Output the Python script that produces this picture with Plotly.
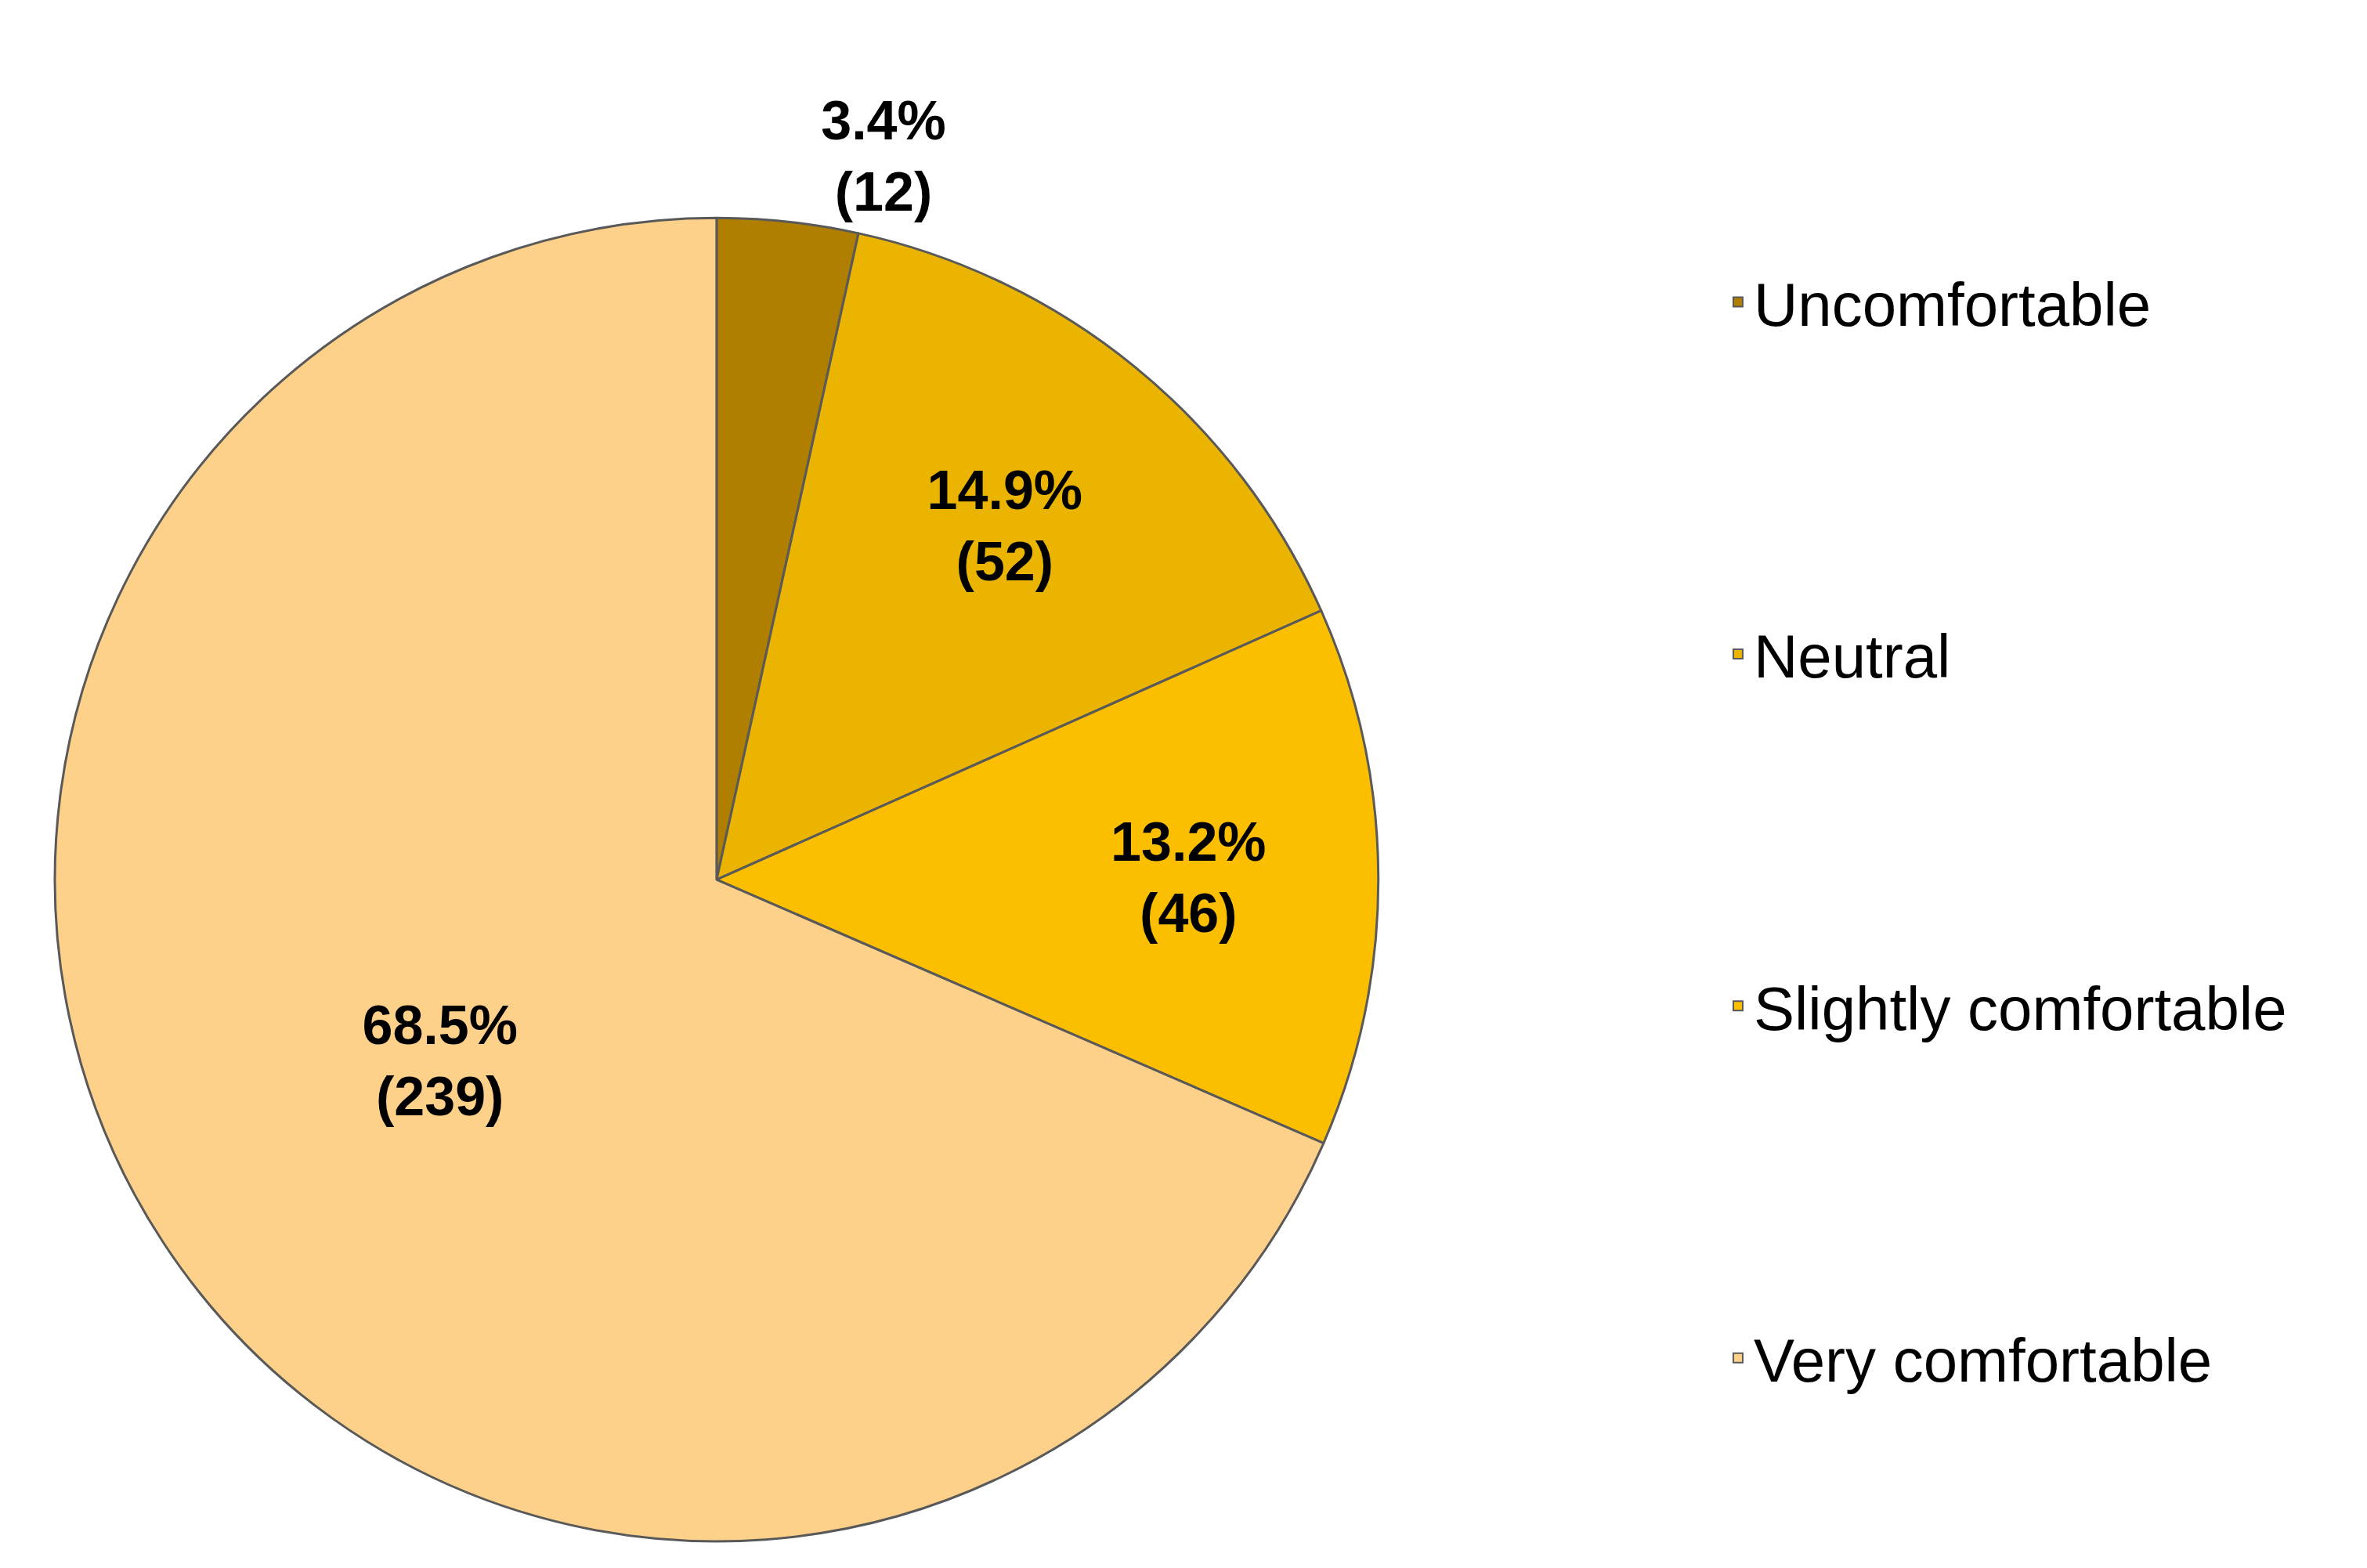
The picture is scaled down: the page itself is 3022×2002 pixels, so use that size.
import plotly.graph_objects as go

categories = ["Uncomfortable", "Neutral", "Slightly comfortable", "Very comfortable"]
counts = [12, 52, 46, 239]
percents = [3.4, 14.9, 13.2, 68.5]
colors = ["#B07F00", "#EBB400", "#FCBF00", "#FDD18A"]
positions = ["outside", "inside", "inside", "inside"]

texts = [f"<b>{p}%<br>({c})</b>" for p, c in zip(percents, counts)]

fig = go.Figure()
fig.add_trace(go.Pie(
    labels=categories, values=counts, text=texts, textinfo="text",
    textposition=positions, insidetextorientation="horizontal",
    sort=False, direction="clockwise", rotation=0,
    marker=dict(colors=colors, line=dict(color="#595959", width=3)),
    textfont=dict(family="Liberation Sans, Arial", size=70, color="black"),
    showlegend=False, hoverinfo="skip",
    domain=dict(x=[0.0205, 0.5797], y=[0.021, 0.865]),
))
for i, (cat, col) in enumerate(zip(categories, colors)):
    fig.add_trace(go.Scatter(
        x=[None], y=[None], mode="markers", name=cat, legendgroup=f"g{i}",
        marker=dict(symbol="square", size=44, color=col, line=dict(color="#595959", width=3)),
    ))

fig.update_layout(
    width=3022, height=2002, margin=dict(l=0, r=0, t=0, b=0),
    paper_bgcolor="white", plot_bgcolor="white",
    xaxis=dict(visible=False), yaxis=dict(visible=False),
    legend=dict(x=0.725, y=0.84, xanchor="left", yanchor="top",
                font=dict(family="Liberation Sans, Arial", size=78, color="black"),
                tracegroupgap=345, itemsizing="constant"),
)
fig.write_html("out.html")
